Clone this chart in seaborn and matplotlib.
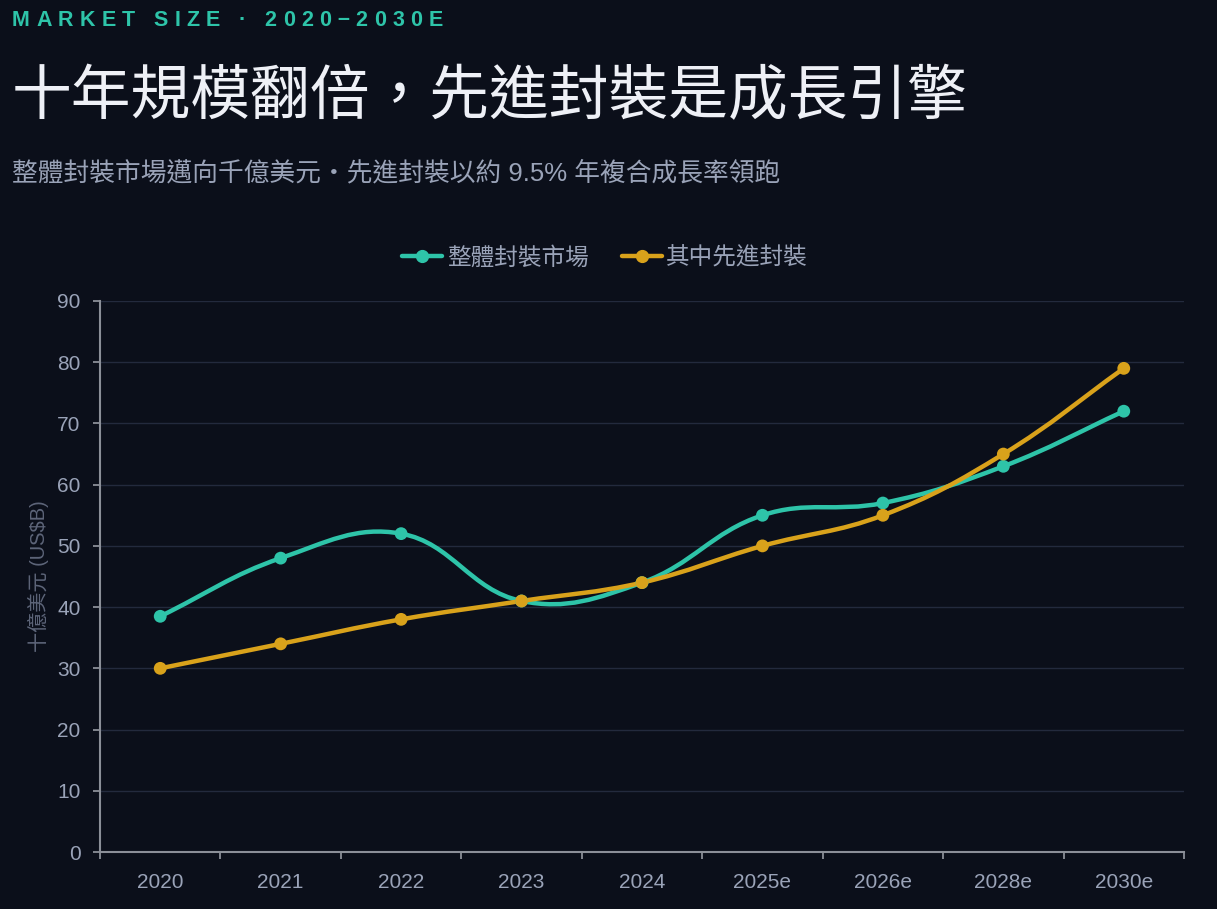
import numpy as np
import pandas as pd
import matplotlib
matplotlib.use("Agg")
import matplotlib.pyplot as plt
import seaborn as sns
from matplotlib.path import Path
from matplotlib.patches import PathPatch
from matplotlib.lines import Line2D

# data
years = ["2020", "2021", "2022", "2023", "2024", "2025e", "2026e", "2028e", "2030e"]
total_market = [38.5, 48, 52, 41, 44, 55, 57, 63, 72]
advanced_pkg = [30, 34, 38, 41, 44, 50, 55, 65, 79]
series_names = ["整體封裝市場", "其中先進封裝"]
colors = ["#2ec4a9", "#d9a21b"]

BG = "#0b0f1a"
MUTED = "#9aa3b8"

sns.set_theme(style="dark")
plt.rcParams["font.family"] = ["Liberation Sans", "Noto Sans CJK TC", "DejaVu Sans"]

df = pd.DataFrame({
    "year": years * 2,
    "x": list(range(len(years))) * 2,
    "value": total_market + advanced_pkg,
    "series": [series_names[0]] * len(years) + [series_names[1]] * len(years),
})

fig = plt.figure(figsize=(12.17, 9.09), dpi=100, facecolor=BG)
ax = fig.add_axes([100 / 1217, 57 / 909, 1084 / 1217, 551 / 909])
ax.set_facecolor(BG)


def smooth_path(xs, ys, sx, sy, t=0.4):
    # cardinal-style spline like chart.js tension 0.4 (distances in pixel space)
    px = np.asarray(xs, float) * sx
    py = np.asarray(ys, float) * sy
    n = len(px)
    prev_cp, next_cp = [], []
    for i in range(n):
        a = max(i - 1, 0)
        c = min(i + 1, n - 1)
        d01 = np.hypot(px[i] - px[a], py[i] - py[a])
        d12 = np.hypot(px[c] - px[i], py[c] - py[i])
        tot = d01 + d12
        s01 = d01 / tot if tot else 0
        s12 = d12 / tot if tot else 0
        dx = px[c] - px[a]
        dy = py[c] - py[a]
        prev_cp.append((px[i] - t * s01 * dx, py[i] - t * s01 * dy))
        next_cp.append((px[i] + t * s12 * dx, py[i] + t * s12 * dy))
    verts = [(px[0], py[0])]
    codes = [Path.MOVETO]
    for i in range(n - 1):
        verts += [next_cp[i], prev_cp[i + 1], (px[i + 1], py[i + 1])]
        codes += [Path.CURVE4] * 3
    verts = np.array(verts) / [sx, sy]
    return Path(verts, codes)


for name, col in zip(series_names, colors):
    sub = df[df.series == name]
    p = smooth_path(sub.x, sub.value, 120.5, 6.12)
    ax.add_patch(PathPatch(p, facecolor="none", edgecolor=col, lw=3.2,
                           capstyle="round", joinstyle="round", zorder=3))

sns.scatterplot(data=df, x="x", y="value", hue="series", palette=colors,
                s=85, edgecolor="none", legend=False, zorder=4, ax=ax)

ax.set_xlim(-0.5, len(years) - 0.5)
ax.set_ylim(0, 90)
ax.set_yticks(range(0, 91, 10))
ax.set_xticks(range(len(years)))
ax.set_xticklabels(years)
ax.set_xticks(np.arange(-0.5, len(years), 1), minor=True)
ax.tick_params(axis="x", which="major", length=0, pad=15, labelsize=15, labelcolor=MUTED)
ax.tick_params(axis="x", which="minor", length=5, width=1.3, color="#8b8f98", bottom=True)
ax.tick_params(axis="y", length=5, width=1.3, color="#8b8f98", pad=9,
               labelsize=15, labelcolor=MUTED, left=True)
ax.grid(axis="y", color="#232a3d", lw=1)
ax.grid(axis="x", visible=False)
for s in ["top", "right"]:
    ax.spines[s].set_visible(False)
for s in ["left", "bottom"]:
    ax.spines[s].set_color("#8b8f98")
    ax.spines[s].set_linewidth(1.5)
ax.set_xlabel("")
ax.set_ylabel("十億美元 (US$B)", color="#5d6579", fontsize=14.5, labelpad=6)

# legend
handles = [Line2D([0], [0], color=c, lw=3.2, marker="o", markersize=8.5) for c in colors]
fig.legend(handles, series_names, loc="center", bbox_to_anchor=(605 / 1217, 1 - 258 / 909),
           ncol=2, frameon=False, fontsize=17, labelcolor=MUTED,
           handlelength=1.7, handletextpad=0.2, columnspacing=1.4)

# header with letter spacing
fig.canvas.draw()
renderer = fig.canvas.get_renderer()
header = "MARKET SIZE · 2020–2030E"
hsize = 15.5
texts = []
widths = []
for ch in header:
    if ch == " ":
        texts.append(None)
        widths.append(hsize * 100 / 72 * 0.28)
        continue
    t = fig.text(0, 1 - 20 / 909, ch, color="#2ec4a9", fontsize=hsize,
                 fontweight="bold", va="center", ha="left")
    texts.append(t)
    widths.append(t.get_window_extent(renderer).width)
gap = (431 - sum(widths)) / (len(header) - 1)
xpos = 12
for t, w in zip(texts, widths):
    if t is not None:
        t.set_x(xpos / 1217)
    xpos += w + gap

fig.text(12 / 1217, 1 - 98 / 909, "十年規模翻倍，先進封裝是成長引擎", color="#eef0f6",
         fontsize=43, va="center", ha="left", family=["Noto Sans CJK TC", "DejaVu Sans"])
fig.text(12 / 1217, 1 - 173 / 909, "整體封裝市場邁向千億美元・先進封裝以約 9.5% 年複合成長率領跑",
         color=MUTED, fontsize=18.5, va="center", ha="left")

fig.savefig("out.png", dpi=100, facecolor=BG)
